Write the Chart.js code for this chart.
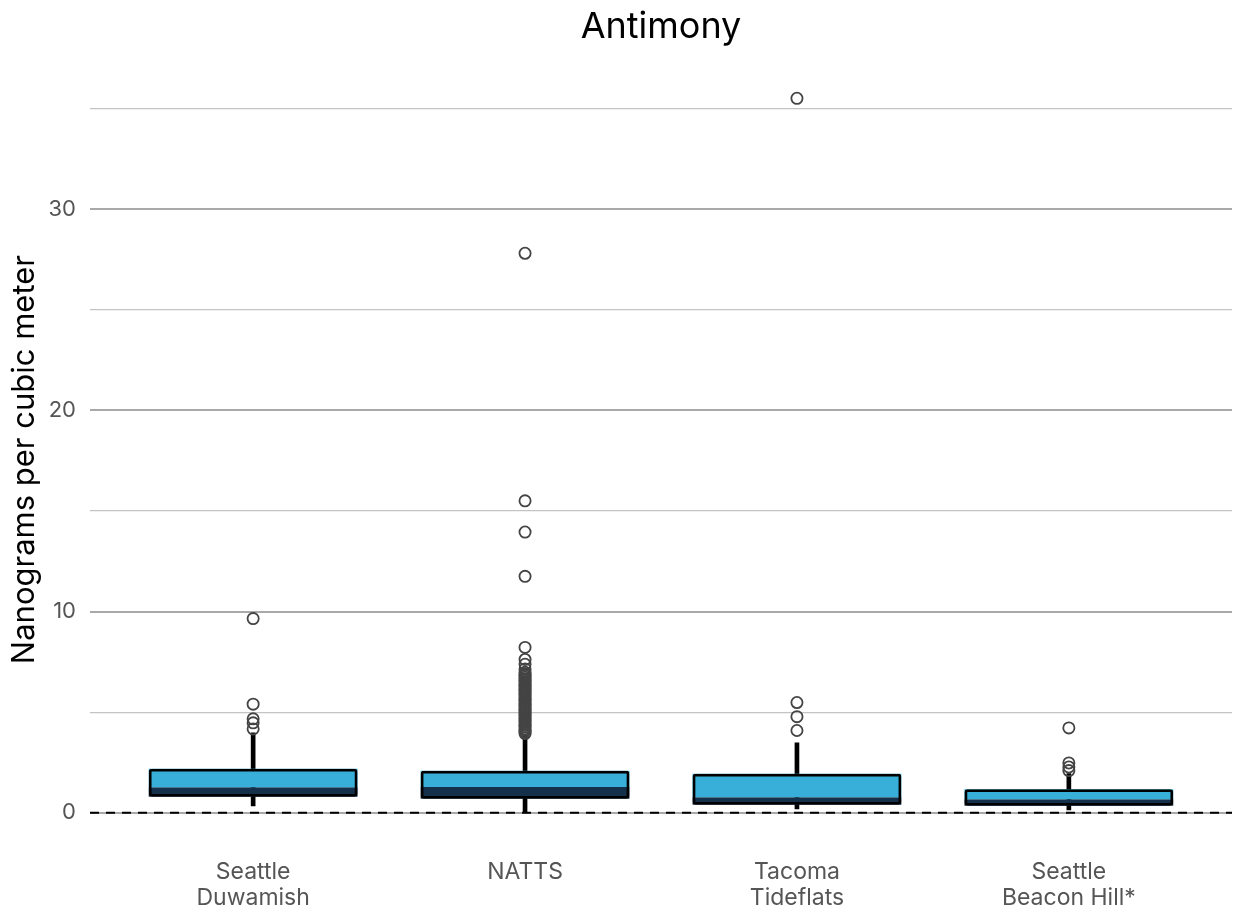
<!DOCTYPE html>
<html>
<head>
<meta charset="utf-8">
<script src="https://cdn.jsdelivr.net/npm/chart.js@4.4.1/dist/chart.umd.min.js"></script>
<style>
  html, body { margin: 0; padding: 0; background: #fff; }
  #wrap { width: 1236px; height: 909px; }
</style>
</head>
<body>
<div id="wrap"><canvas id="chart" width="1236" height="909"></canvas></div>
<script>
// box plot summary per site
const sites = [['Seattle', 'Duwamish'], ['NATTS'], ['Tacoma', 'Tideflats'], ['Seattle', 'Beacon Hill*']];
const whiskerLow = [0.35, 0.0, 0.2, 0.15];
const q1 = [0.8, 0.7, 0.4, 0.35];
const median = [1.27, 1.29, 0.78, 0.67];
const q3 = [2.19, 2.09, 1.94, 1.17];
const whiskerHigh = [3.97, 3.87, 3.48, 1.95];
const outliers = [
    [9.65, 5.4, 4.67, 4.47, 4.17],
    [27.8, 15.5, 13.95, 11.75, 8.22, 7.62, 7.38, 7.15, 6.98, 6.9, 6.82, 6.74, 6.66, 6.58, 6.5,
     6.41, 6.33, 6.25, 6.17, 6.08, 6.0, 5.92, 5.84, 5.76, 5.67, 5.59, 5.5, 5.42, 5.34, 5.25,
     5.17, 5.09, 5.0, 4.92, 4.84, 4.75, 4.67, 4.59, 4.5, 4.42, 4.34, 4.26, 4.17, 4.09, 4.01, 3.94],
    [35.5, 5.48, 4.78, 4.09],
    [4.22, 2.48, 2.28, 2.1]
];

const xMin = 0.4, xMax = 4.6;
const font = 'Inter, "Noto Sans", sans-serif';

const pos = sites.map((s, i) => i + 1);
const outlierPoints = outliers.flatMap((vals, i) => vals.map(v => ({ x: i + 1, y: v })));

const boxCommon = {
    type: 'bar',
    grouped: false,
    barPercentage: 1,
    categoryPercentage: 0.768
};

new Chart(document.getElementById('chart').getContext('2d'), {
    type: 'bar',
    data: {
        datasets: [
            {
                type: 'scatter',
                data: outlierPoints,
                pointRadius: 5.6,
                pointBorderWidth: 1.8,
                borderColor: '#444',
                backgroundColor: 'rgba(0,0,0,0)',
                order: 0
            },
            Object.assign({}, boxCommon, {
                data: pos.map((x, i) => ({ x: x, y: [q1[i], q3[i]] })),
                backgroundColor: 'rgba(0,0,0,0)',
                borderColor: '#000',
                borderWidth: 2.8,
                borderSkipped: false,
                borderRadius: 3,
                order: 1
            }),
            Object.assign({}, boxCommon, {
                data: pos.map((x, i) => ({ x: x, y: [median[i], q3[i]] })),
                backgroundColor: '#38afd9',
                borderWidth: 0,
                order: 2
            }),
            Object.assign({}, boxCommon, {
                data: pos.map((x, i) => ({ x: x, y: [q1[i], median[i]] })),
                backgroundColor: '#14304a',
                borderWidth: 0,
                order: 3
            }),
            {
                type: 'bar',
                grouped: false,
                barThickness: 4,
                data: pos.map((x, i) => ({ x: x, y: [whiskerLow[i], whiskerHigh[i]] })),
                backgroundColor: '#000',
                borderWidth: 0,
                order: 4
            },
            {
                type: 'line',
                data: [{ x: xMin, y: 0 }, { x: xMax, y: 0 }],
                borderColor: '#000',
                borderWidth: 2,
                borderDash: [9, 7],
                pointRadius: 0,
                order: 5
            }
        ]
    },
    options: {
        responsive: false,
        animation: false,
        layout: { autoPadding: false, padding: { left: 6, right: 4, top: 0, bottom: 0 } },
        plugins: {
            legend: { display: false },
            tooltip: { enabled: false },
            title: {
                display: true,
                fullSize: false,
                text: 'Antimony',
                color: '#000',
                font: { family: font, size: 36, weight: 'normal' },
                padding: { top: 6, bottom: 33 }
            }
        },
        scales: {
            x: {
                type: 'linear',
                min: xMin,
                max: xMax,
                offset: false,
                grid: { display: false, drawTicks: false },
                border: { display: false },
                afterFit: function (scale) { scale.height = 72; },
                afterBuildTicks: function (scale) {
                    scale.ticks = pos.map(v => ({ value: v }));
                },
                ticks: {
                    autoSkip: false,
                    maxRotation: 0,
                    padding: 22,
                    color: '#555',
                    font: { family: font, size: 23, lineHeight: 1.13 },
                    callback: function (value) { return sites[value - 1] || ''; }
                }
            },
            y: {
                min: -1.2,
                max: 36.3,
                afterFit: function (scale) { scale.width = 84; },
                border: { display: false },
                grid: {
                    drawTicks: false,
                    color: function (ctx) { return ctx.tick && ctx.tick.value % 10 === 0 ? '#a9a9a9' : '#c4c4c4'; },
                    lineWidth: function (ctx) { return ctx.tick && ctx.tick.value % 10 === 0 ? 2 : 1.2; }
                },
                ticks: {
                    stepSize: 5,
                    includeBounds: false,
                    padding: 14,
                    color: '#555',
                    font: { family: font, size: 22 },
                    callback: function (value) { return value % 10 === 0 ? value : ''; }
                },
                title: {
                    display: true,
                    text: 'Nanograms per cubic meter',
                    color: '#000',
                    font: { family: font, size: 31 },
                    padding: 0
                }
            }
        }
    }
});
</script>
</body>
</html>
